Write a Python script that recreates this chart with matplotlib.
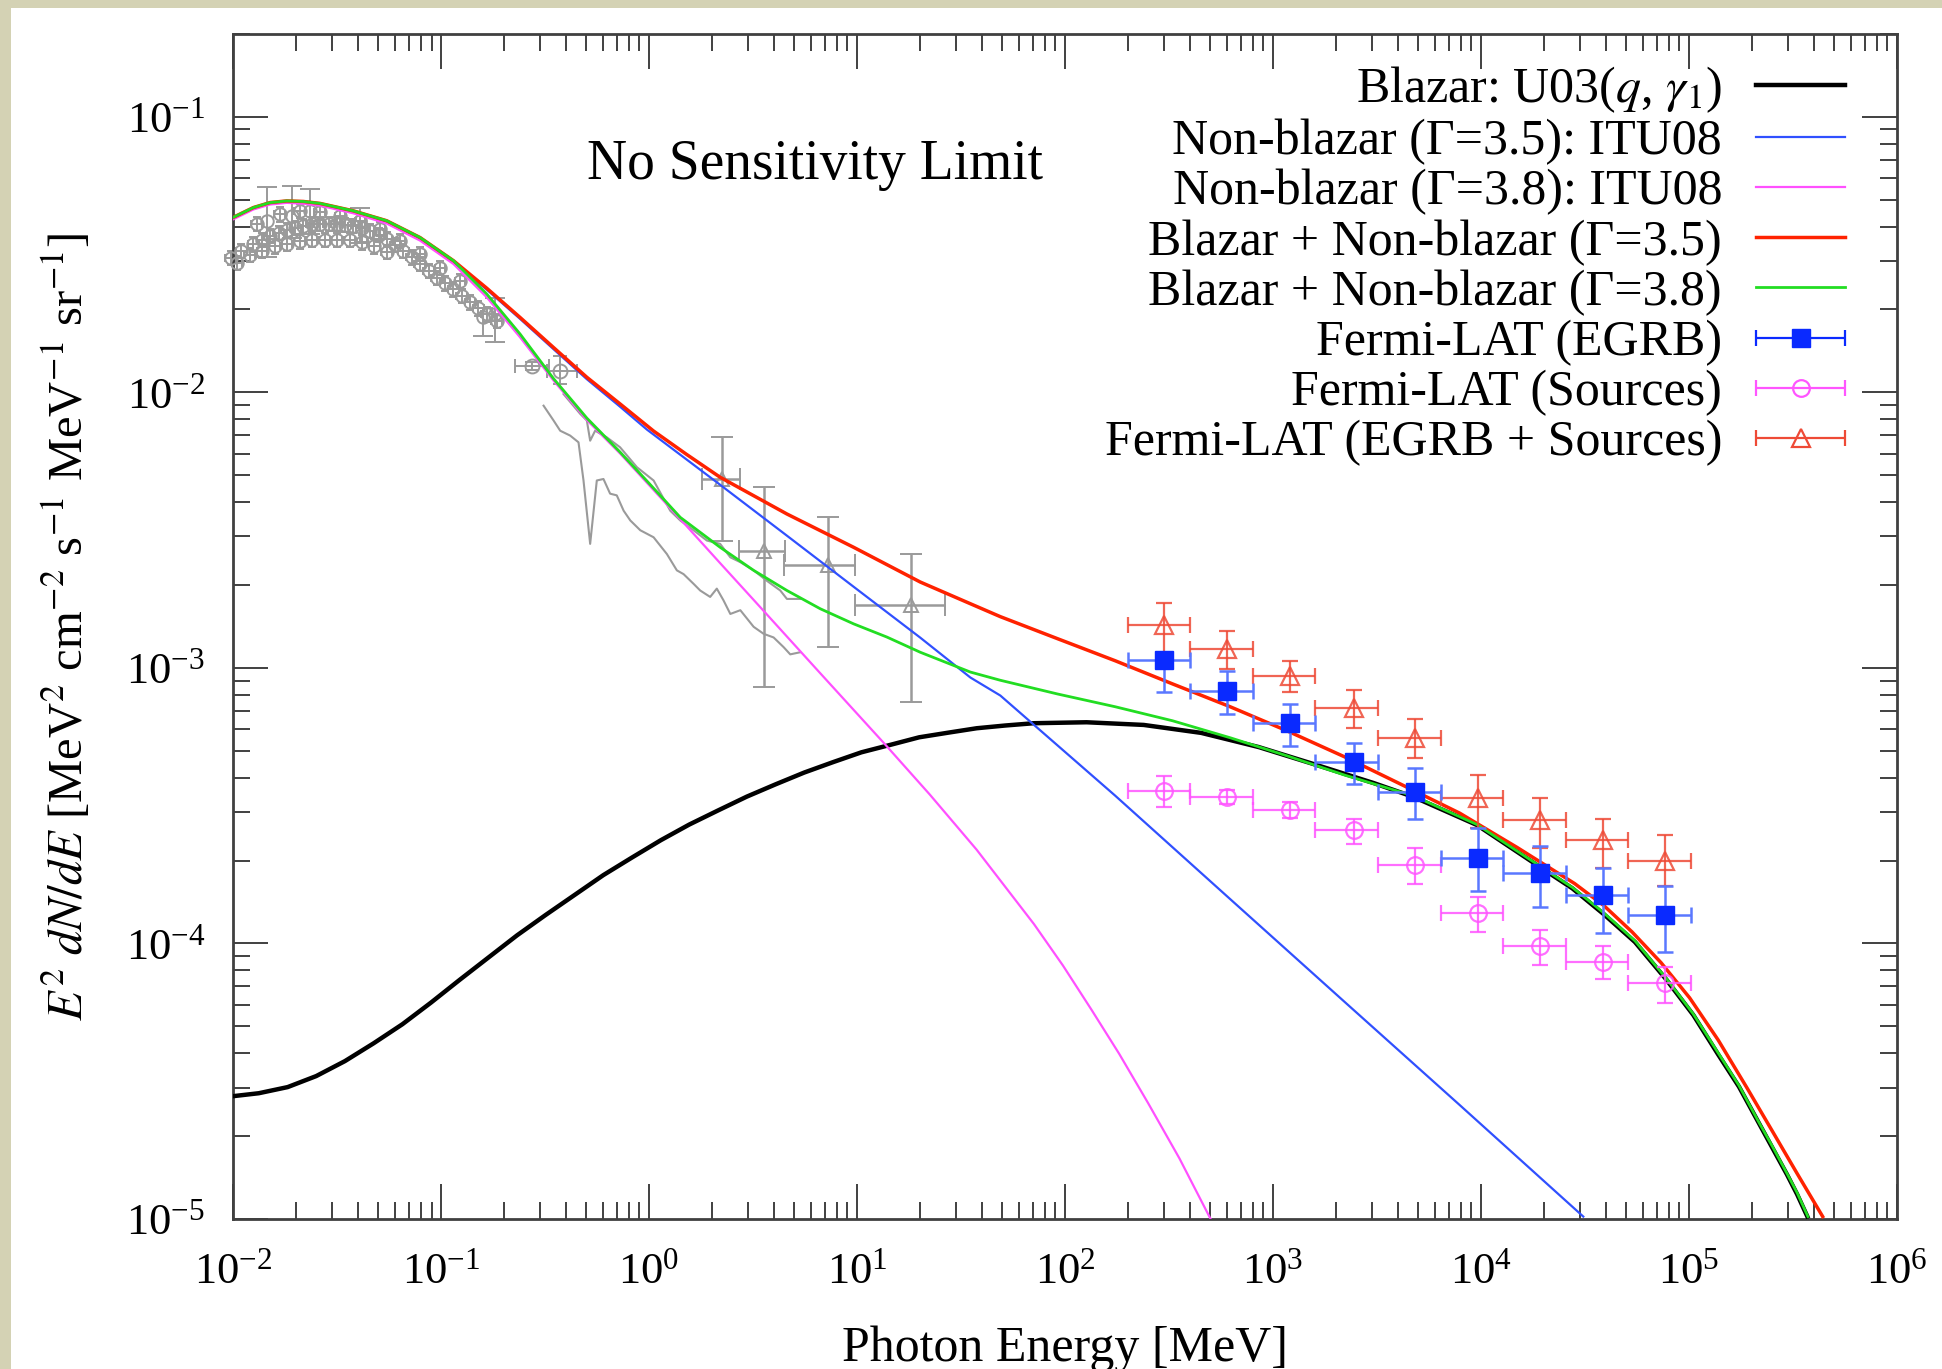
import numpy as np
import matplotlib
matplotlib.use("Agg")
import matplotlib.pyplot as plt
from matplotlib.patches import Rectangle
from matplotlib.legend_handler import HandlerErrorbar
from matplotlib.ticker import LogLocator, NullFormatter

plt.rcParams['font.family'] = ['Liberation Serif', 'DejaVu Serif']
plt.rcParams['mathtext.fontset'] = 'stix'
plt.rcParams['axes.unicode_minus'] = False

# ---- model curves: E [MeV], E^2 dN/dE ----
blazar_E = [0.01, 0.0133, 0.0183, 0.0251, 0.0345, 0.0474, 0.0652, 0.0895, 0.123, 0.169,
            0.232, 0.319, 0.439, 0.603, 0.828, 1.14, 1.56, 2.15, 2.95, 4.06, 5.57, 7.67,
            10.5, 14.5, 19.9, 27.4, 37.6, 51.6, 71.0, 127, 239, 452, 855, 1610, 3050, 4750,
            9570, 19300, 27500, 38800, 55000, 78000, 105000, 138000, 174000, 216000,
            251000, 296000, 331000, 371000]
blazar_F = [2.79e-5, 2.86e-5, 3.01e-5, 3.30e-5, 3.74e-5, 4.34e-5, 5.09e-5, 6.10e-5, 7.38e-5,
            8.89e-5, 1.07e-4, 1.27e-4, 1.50e-4, 1.77e-4, 2.05e-4, 2.37e-4, 2.70e-4, 3.04e-4,
            3.41e-4, 3.78e-4, 4.17e-4, 4.55e-4, 4.94e-4, 5.26e-4, 5.60e-4, 5.82e-4, 6.04e-4,
            6.18e-4, 6.30e-4, 6.35e-4, 6.21e-4, 5.81e-4, 5.16e-4, 4.45e-4, 3.82e-4, 3.40e-4,
            2.69e-4, 1.89e-4, 1.585e-4, 1.28e-4, 1.012e-4, 7.38e-5, 5.495e-5, 3.96e-5,
            3.02e-5, 2.24e-5, 1.82e-5, 1.45e-5, 1.23e-5, 1.02e-5]

nb35_E = [0.01, 0.01253, 0.01507, 0.01811, 0.02178, 0.02618, 0.0379, 0.0548, 0.0793, 0.1148,
          0.166, 0.2399, 0.3475, 0.5023, 0.7261, 0.977, 2.198, 4.603, 9.638, 20.14, 35.08,
          48.87, 174.2, 622.3, 2218, 7907, 31046]
nb35_F = [4.295e-2, 4.667e-2, 4.864e-2, 4.932e-2, 4.909e-2, 4.831e-2, 4.539e-2, 4.169e-2,
          3.622e-2, 2.979e-2, 2.360e-2, 1.849e-2, 1.435e-2, 1.117e-2, 8.87e-3, 7.33e-3,
          4.62e-3, 3.02e-3, 1.97e-3, 1.288e-3, 9.23e-4, 7.94e-4, 3.44e-4, 1.449e-4,
          6.12e-5, 2.59e-5, 1.02e-5]

nb38_E = [0.01, 0.01253, 0.01507, 0.01811, 0.02178, 0.02618, 0.0379, 0.0548, 0.0793, 0.1148,
          0.166, 0.2399, 0.3475, 0.5023, 0.7261, 1.413, 2.198, 3.184, 6.653, 13.58, 22.39,
          37.58, 70.96, 97.72, 134.0, 182.0, 251.2, 354.8, 501.2]
nb38_F = [4.246e-2, 4.613e-2, 4.808e-2, 4.875e-2, 4.842e-2, 4.764e-2, 4.467e-2, 4.102e-2,
          3.556e-2, 2.924e-2, 2.213e-2, 1.585e-2, 1.104e-2, 7.94e-3, 6.00e-3, 3.47e-3,
          2.40e-3, 1.766e-3, 9.57e-4, 5.30e-4, 3.47e-4, 2.19e-4, 1.175e-4, 8.318e-5,
          5.75e-5, 3.981e-5, 2.63e-5, 1.660e-5, 1.0e-5]

sum35_E = [0.01, 0.01253, 0.01507, 0.01811, 0.02178, 0.02618, 0.0379, 0.0548, 0.0793, 0.1148,
           0.166, 0.2399, 0.3475, 0.5023, 0.7261, 1.052, 1.514, 2.198, 4.603, 9.638, 20.14,
           35.08, 48.87, 92.26, 174.2, 328.9, 622.3, 1175, 2218, 4188, 7907, 14928, 28184,
           38905, 53333, 73451, 100693, 138038, 190108, 251189, 331131, 439542]
sum35_F = [4.315e-2, 4.688e-2, 4.887e-2, 4.955e-2, 4.932e-2, 4.853e-2, 4.560e-2, 4.198e-2,
           3.648e-2, 3.006e-2, 2.388e-2, 1.871e-2, 1.455e-2, 1.135e-2, 9.08e-3, 7.24e-3,
           5.96e-3, 4.92e-3, 3.62e-3, 2.74e-3, 2.05e-3, 1.71e-3, 1.535e-3, 1.276e-3,
           1.062e-3, 8.75e-4, 7.23e-4, 5.90e-4, 4.75e-4, 3.76e-4, 2.97e-4, 2.23e-4, 1.65e-4,
           1.374e-4, 1.10e-4, 8.511e-5, 6.35e-5, 4.467e-5, 2.99e-5, 2.089e-5, 1.462e-5,
           1.02e-5]

sum38_E = [0.01, 0.01253, 0.01507, 0.01811, 0.02178, 0.02618, 0.0379, 0.0548, 0.0793, 0.1148,
           0.166, 0.2399, 0.3475, 0.5023, 0.7261, 1.0, 1.413, 1.778, 2.198, 3.184, 4.603,
           6.653, 9.638, 13.93, 20.14, 35.08, 48.87, 92.26, 174.2, 328.9, 622.3, 1175, 2218,
           4753, 9572, 19275, 27542, 38815, 54954, 77983, 104713, 138360, 173780, 215770,
           251189, 296480, 331131, 373250]
sum38_F = [4.315e-2, 4.688e-2, 4.887e-2, 4.955e-2, 4.932e-2, 4.853e-2, 4.560e-2, 4.198e-2,
           3.648e-2, 3.006e-2, 2.275e-2, 1.629e-2, 1.122e-2, 8.07e-3, 6.07e-3, 4.68e-3,
           3.52e-3, 3.09e-3, 2.74e-3, 2.26e-3, 1.91e-3, 1.64e-3, 1.445e-3, 1.294e-3,
           1.14e-3, 9.66e-4, 9.02e-4, 8.04e-4, 7.23e-4, 6.43e-4, 5.58e-4, 4.79e-4, 4.08e-4,
           3.43e-4, 2.70e-4, 1.905e-4, 1.596e-4, 1.294e-4, 1.023e-4, 7.45e-5, 5.559e-5,
           4.00e-5, 3.055e-5, 2.26e-5, 1.841e-5, 1.46e-5, 1.245e-5, 1.02e-5]

# ---- gray low energy data (band of points) ----
band_E = [9.77e-3, 1.096e-2, 1.253e-2, 1.380e-2, 1.507e-2, 1.660e-2, 1.811e-2, 1.995e-2,
          2.178e-2, 2.399e-2, 2.618e-2, 2.884e-2, 3.155e-2, 3.467e-2, 3.793e-2, 4.169e-2,
          4.560e-2, 5.012e-2, 5.483e-2, 6.026e-2, 6.592e-2, 7.244e-2, 7.925e-2, 8.710e-2,
          9.550e-2, 0.1047, 0.1148, 0.1259, 0.1380, 0.1514, 0.1660, 0.1854,
          1.300e-2, 1.683e-2, 2.099e-2, 2.618e-2, 3.273e-2, 4.083e-2, 5.093e-2, 6.353e-2,
          7.925e-2, 9.908e-2, 0.1236,
          1.047e-2, 1.202e-2, 1.380e-2, 1.585e-2, 1.820e-2, 2.089e-2, 2.399e-2, 2.754e-2,
          3.162e-2, 3.631e-2, 4.169e-2, 4.786e-2, 5.495e-2]
band_F = [3.076e-2, 3.273e-2, 3.451e-2, 3.589e-2, 3.698e-2, 3.802e-2, 3.882e-2, 3.963e-2,
          4.027e-2, 4.074e-2, 4.102e-2, 4.102e-2, 4.083e-2, 4.055e-2, 4.027e-2, 3.954e-2,
          3.864e-2, 3.741e-2, 3.597e-2, 3.436e-2, 3.266e-2, 3.090e-2, 2.924e-2, 2.767e-2,
          2.612e-2, 2.489e-2, 2.371e-2, 2.244e-2, 2.123e-2, 2.018e-2, 1.923e-2, 1.820e-2,
          4.083e-2, 4.436e-2, 4.560e-2, 4.498e-2, 4.375e-2, 4.198e-2, 3.917e-2, 3.548e-2,
          3.177e-2, 2.838e-2, 2.541e-2,
          2.951e-2, 3.162e-2, 3.273e-2, 3.388e-2, 3.467e-2, 3.532e-2, 3.573e-2, 3.589e-2,
          3.589e-2, 3.573e-2, 3.508e-2, 3.388e-2, 3.236e-2]
band_rel_err = 0.06

bigerr_E = [1.452e-2, 1.914e-2, 2.344e-2, 4.083e-2, 0.160, 0.182]
bigerr_F = [4.198e-2, 4.375e-2, 4.560e-2, 4.198e-2, 1.871e-2, 1.923e-2]
bigerr_lo = [3.090e-2, 3.648e-2, 3.758e-2, 3.499e-2, 1.607e-2, 1.521e-2]
bigerr_hi = [5.546e-2, 5.623e-2, 5.470e-2, 4.677e-2, 2.032e-2, 2.208e-2]

circ_E = [0.2735, 0.374]
circ_Elo = [0.2275, 0.3228]
circ_Ehi = [0.3289, 0.4498]
circ_F = [1.250e-2, 1.199e-2]
circ_Flo = [1.208e-2, 1.074e-2]
circ_Fhi = [1.294e-2, 1.358e-2]

# two gray measured background lines
bg_low_E = [0.3112, 0.3475, 0.3741, 0.4178, 0.4581, 0.4842, 0.5212, 0.5610, 0.6039, 0.6501,
            0.6998, 0.7551, 0.8128, 0.9078, 1.052, 1.219, 1.361, 1.466, 1.637, 1.762, 1.968,
            2.118, 2.280, 2.460, 2.748, 3.184, 3.556, 3.972, 4.436, 4.775, 5.333]
bg_low_F = [8.95e-3, 7.91e-3, 7.26e-3, 6.97e-3, 6.59e-3, 4.79e-3, 2.82e-3, 4.79e-3, 4.85e-3,
            4.29e-3, 4.23e-3, 3.72e-3, 3.43e-3, 3.16e-3, 2.98e-3, 2.59e-3, 2.26e-3, 2.19e-3,
            2.02e-3, 1.91e-3, 1.81e-3, 1.94e-3, 1.76e-3, 1.57e-3, 1.62e-3, 1.41e-3, 1.33e-3,
            1.29e-3, 1.19e-3, 1.12e-3, 1.14e-3]
bg_up_E = [0.3882, 0.4667, 0.5023, 0.5212, 0.5508, 0.6266, 0.7261, 0.8750, 1.052, 1.265,
           1.413, 1.637, 1.897, 2.198, 2.460, 2.748, 3.184, 3.690, 4.276, 4.603, 5.333]
bg_up_F = [9.86e-3, 8.36e-3, 7.91e-3, 6.68e-3, 7.26e-3, 6.87e-3, 6.32e-3, 5.35e-3, 4.79e-3,
           3.72e-3, 3.43e-3, 3.16e-3, 2.90e-3, 2.82e-3, 2.52e-3, 2.42e-3, 2.26e-3, 2.07e-3,
           1.91e-3, 1.78e-3, 1.78e-3]

# COMPTEL-like gray triangles
tri_E = [2.239, 3.581, 7.228, 18.20]
tri_Elo = [1.795, 2.698, 4.436, 9.817]
tri_Ehi = [2.748, 4.519, 9.817, 26.61]
tri_F = [4.853e-3, 2.667e-3, 2.355e-3, 1.687e-3]
tri_Flo = [2.897e-3, 8.51e-4, 1.191e-3, 7.52e-4]
tri_Fhi = [6.871e-3, 4.529e-3, 3.524e-3, 2.594e-3]

# ---- Fermi-LAT ----
lat_E = [300, 600, 1210, 2440, 4820, 9700, 19300, 38800, 77100]
lat_Elo = [200, 400, 800, 1600, 3200, 6400, 12800, 25600, 51200]
lat_Ehi = [400, 800, 1600, 3200, 6400, 12800, 25600, 51200, 102400]

egrb_F = [1.067e-3, 8.24e-4, 6.30e-4, 4.54e-4, 3.55e-4, 2.05e-4, 1.795e-4, 1.496e-4, 1.265e-4]
egrb_hi = [1.135e-3, 9.75e-4, 7.38e-4, 5.32e-4, 4.35e-4, 2.62e-4, 2.25e-4, 1.875e-4, 1.611e-4]
egrb_lo = [8.15e-4, 6.78e-4, 5.22e-4, 3.80e-4, 2.82e-4, 1.556e-4, 1.361e-4, 1.094e-4, 9.29e-5]

src_F = [3.57e-4, 3.40e-4, 3.05e-4, 2.58e-4, 1.923e-4, 1.294e-4, 9.82e-5, 8.57e-5, 7.18e-5]
src_hi = [4.04e-4, 3.61e-4, 3.27e-4, 2.82e-4, 2.22e-4, 1.479e-4, 1.119e-4, 9.77e-5, 8.20e-5]
src_lo = [3.13e-4, 3.21e-4, 2.85e-4, 2.29e-4, 1.637e-4, 1.104e-4, 8.36e-5, 7.41e-5, 6.07e-5]

tot_F = [1.436e-3, 1.172e-3, 9.33e-4, 7.13e-4, 5.56e-4, 3.37e-4, 2.81e-4, 2.37e-4, 2.00e-4]
tot_hi = [1.726e-3, 1.365e-3, 1.059e-3, 8.32e-4, 6.50e-4, 4.10e-4, 3.37e-4, 2.83e-4, 2.48e-4]
tot_lo = [1.135e-3, 9.91e-4, 8.15e-4, 6.03e-4, 4.73e-4, 2.62e-4, 2.22e-4, 1.875e-4, 1.611e-4]


def asym(c, lo, hi):
    c = np.asarray(c, float)
    return [c - np.asarray(lo, float), np.asarray(hi, float) - c]


gray = '#9a9a9a'
c_blue = '#3050ff'
c_mag = '#ff50ff'
c_red = '#ff2200'
c_green = '#22dd22'
c_egrb = '#0a2aff'
c_src = '#ff55ff'
c_tot = '#ee4a36'

fig = plt.figure(figsize=(19.42, 13.69), dpi=100)
fig.patch.set_facecolor('#d4d2b4')
fig.add_artist(Rectangle((11 / 1942, 0), 1, 1 - 8 / 1369, transform=fig.transFigure,
                         facecolor='white', edgecolor='none', zorder=-10))
ax = fig.add_axes([0.1200, 0.1096, 0.8568, 0.8656])
ax.set_xscale('log')
ax.set_yscale('log')
ax.set_xlim(1e-2, 1e6)
ax.set_ylim(1e-5, 0.2)

# curves
l1, = ax.plot(blazar_E, blazar_F, color='k', lw=3.2, zorder=3)
l2, = ax.plot(nb35_E, nb35_F, color=c_blue, lw=1.6, zorder=3.1)
l3, = ax.plot(nb38_E, nb38_F, color=c_mag, lw=1.6, zorder=3.2)
l4, = ax.plot(sum35_E, sum35_F, color=c_red, lw=2.5, zorder=3.3)
l5, = ax.plot(sum38_E, sum38_F, color=c_green, lw=2.0, zorder=3.4)

# gray data
band_E_arr = np.array(band_E)
band_F_arr = np.array(band_F)
ax.errorbar(band_E, band_F, xerr=band_E_arr * band_rel_err, yerr=band_F_arr * band_rel_err,
            fmt='o', ms=9, mfc='none', mec=gray, mew=1.4, ecolor=gray, elinewidth=1.4,
            capsize=3, capthick=1.4, clip_on=False, zorder=2.5)
ax.errorbar(bigerr_E, bigerr_F, yerr=asym(bigerr_F, bigerr_lo, bigerr_hi),
            fmt='o', ms=9, mfc='none', mec=gray, mew=1.4, ecolor=gray, elinewidth=1.4,
            capsize=7, capthick=1.4, zorder=2.5)
ax.errorbar(circ_E, circ_F, xerr=asym(circ_E, circ_Elo, circ_Ehi),
            yerr=asym(circ_F, circ_Flo, circ_Fhi),
            fmt='o', ms=10, mfc='none', mec=gray, mew=1.4, ecolor=gray, elinewidth=1.4,
            capsize=5, capthick=1.4, zorder=2.5)
ax.plot(bg_low_E, bg_low_F, color=gray, lw=1.5, zorder=2.5)
ax.plot(bg_up_E, bg_up_F, color=gray, lw=1.5, zorder=2.5)
ax.errorbar(tri_E, tri_F, xerr=asym(tri_E, tri_Elo, tri_Ehi), yerr=asym(tri_F, tri_Flo, tri_Fhi),
            fmt='^', ms=10, mfc='none', mec=gray, mew=1.4, ecolor=gray, elinewidth=1.8,
            capsize=8, capthick=1.8, zorder=2.5)

# Fermi-LAT
xerr_lat = asym(lat_E, lat_Elo, lat_Ehi)
ax.errorbar(lat_E, tot_F, xerr=xerr_lat, yerr=asym(tot_F, tot_lo, tot_hi), fmt='^', ms=13,
            mfc='none', mec=c_tot, mew=1.6, ecolor=c_tot, elinewidth=1.6, capsize=6,
            capthick=1.6, alpha=0.85, zorder=4)
ax.errorbar(lat_E, src_F, xerr=xerr_lat, yerr=asym(src_F, src_lo, src_hi), fmt='o', ms=12,
            mfc='none', mec=c_src, mew=1.6, ecolor=c_src, elinewidth=1.6, capsize=6,
            capthick=1.6, alpha=0.85, zorder=4)
ax.errorbar(lat_E, egrb_F, xerr=xerr_lat, yerr=asym(egrb_F, egrb_lo, egrb_hi), fmt='s', ms=13,
            mfc=c_egrb, mec=c_egrb, ecolor='#5a78ff', elinewidth=1.8, capsize=6,
            capthick=1.8, zorder=4.1)

# legend proxies for the data sets (horizontal bar only, as in the original key)
h6 = ax.errorbar([np.nan], [np.nan], xerr=[1.0], fmt='s', ms=13, mfc=c_egrb, mec=c_egrb,
                 ecolor=c_egrb, elinewidth=1.6, capsize=6, capthick=1.6)
h7 = ax.errorbar([np.nan], [np.nan], xerr=[1.0], fmt='o', ms=12, mfc='none', mec=c_src,
                 mew=1.6, ecolor=c_src, elinewidth=1.6, capsize=6, capthick=1.6)
h8 = ax.errorbar([np.nan], [np.nan], xerr=[1.0], fmt='^', ms=13, mfc='none', mec=c_tot,
                 mew=1.6, ecolor=c_tot, elinewidth=1.6, capsize=6, capthick=1.6)

labels = [r'Blazar: U03($q$, $\gamma_{\mathit{1}}$)',
          'Non-blazar (\u0393=3.5): ITU08',
          'Non-blazar (\u0393=3.8): ITU08',
          'Blazar + Non-blazar (\u0393=3.5)',
          'Blazar + Non-blazar (\u0393=3.8)',
          'Fermi-LAT (EGRB)',
          'Fermi-LAT (Sources)',
          'Fermi-LAT (EGRB + Sources)']
hmap = {h: HandlerErrorbar(xerr_size=0.89) for h in (h6, h7, h8)}
ax.legend([l1, l2, l3, l4, l5, h6, h7, h8], labels, loc='upper right',
          bbox_to_anchor=(0.9688, 0.9741), frameon=False, markerfirst=False, fontsize=36,
          handlelength=1.78, handletextpad=0.68, labelspacing=0.073, borderpad=0,
          borderaxespad=0, numpoints=1, handler_map=hmap)

ax.text(0.350, 0.8896, 'No Sensitivity Limit', transform=ax.transAxes, ha='center',
        va='center', fontsize=40)

# axes styling
spine_c = '#404040'
for s in ax.spines.values():
    s.set_linewidth(2.0)
    s.set_color(spine_c)
ax.xaxis.set_major_locator(LogLocator(base=10, numticks=20))
ax.xaxis.set_minor_locator(LogLocator(base=10, subs=np.arange(2, 10), numticks=20))
ax.yaxis.set_major_locator(LogLocator(base=10, numticks=20))
ax.yaxis.set_minor_locator(LogLocator(base=10, subs=np.arange(2, 10), numticks=20))
ax.xaxis.set_minor_formatter(NullFormatter())
ax.yaxis.set_minor_formatter(NullFormatter())
ax.tick_params(which='both', direction='in', top=True, right=True, color=spine_c,
               labelsize=32)
ax.tick_params(which='major', length=25, width=1.4)
ax.tick_params(which='minor', length=12.5, width=1.4)
ax.tick_params(axis='x', which='major', pad=24)
ax.tick_params(axis='y', which='major', pad=20)

ax.set_xlabel('Photon Energy [MeV]', fontsize=36, va='center')
ax.xaxis.set_label_coords(0.5, -0.1097)
ax.set_ylabel(r'$E^2\ dN/dE$ [MeV$^2$ cm$^{-2}$ s$^{-1}$ MeV$^{-1}$ sr$^{-1}$]',
              fontsize=35, va='center')
ax.yaxis.set_label_coords(-0.1000, 0.5)

fig.savefig('out.png', dpi=100, facecolor=fig.get_facecolor())
